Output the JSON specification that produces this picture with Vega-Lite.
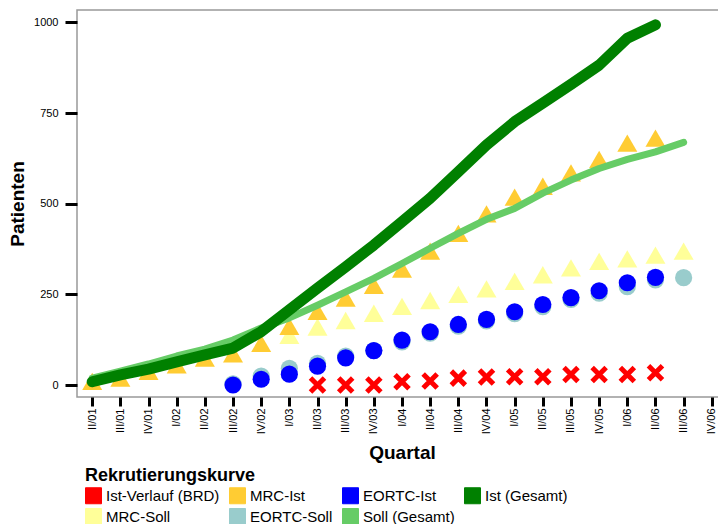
{
  "$schema": "https://vega.github.io/schema/vega-lite/v6.json",
  "width": 650,
  "height": 387,
  "autosize": {"type": "none"},
  "padding": {"left": 77, "top": 10, "right": 0, "bottom": 127},
  "background": "white",
  "config": {
    "font": "Liberation Sans",
    "view": {"stroke": "#999999", "strokeWidth": 1.5}
  },
  "data": {
    "values": [
      {"q": "II/01", "s": "Ist (Gesamt)", "n": 9},
      {"q": "III/01", "s": "Ist (Gesamt)", "n": 28},
      {"q": "IV/01", "s": "Ist (Gesamt)", "n": 44},
      {"q": "I/02", "s": "Ist (Gesamt)", "n": 64},
      {"q": "II/02", "s": "Ist (Gesamt)", "n": 83},
      {"q": "III/02", "s": "Ist (Gesamt)", "n": 102},
      {"q": "IV/02", "s": "Ist (Gesamt)", "n": 147},
      {"q": "I/03", "s": "Ist (Gesamt)", "n": 207},
      {"q": "II/03", "s": "Ist (Gesamt)", "n": 267},
      {"q": "III/03", "s": "Ist (Gesamt)", "n": 326},
      {"q": "IV/03", "s": "Ist (Gesamt)", "n": 386},
      {"q": "I/04", "s": "Ist (Gesamt)", "n": 450},
      {"q": "II/04", "s": "Ist (Gesamt)", "n": 515},
      {"q": "III/04", "s": "Ist (Gesamt)", "n": 588},
      {"q": "IV/04", "s": "Ist (Gesamt)", "n": 662},
      {"q": "I/05", "s": "Ist (Gesamt)", "n": 726},
      {"q": "II/05", "s": "Ist (Gesamt)", "n": 777},
      {"q": "III/05", "s": "Ist (Gesamt)", "n": 829},
      {"q": "IV/05", "s": "Ist (Gesamt)", "n": 882},
      {"q": "I/06", "s": "Ist (Gesamt)", "n": 956},
      {"q": "II/06", "s": "Ist (Gesamt)", "n": 993},

      {"q": "II/01", "s": "Soll (Gesamt)", "n": 19},
      {"q": "III/01", "s": "Soll (Gesamt)", "n": 38},
      {"q": "IV/01", "s": "Soll (Gesamt)", "n": 58},
      {"q": "I/02", "s": "Soll (Gesamt)", "n": 80},
      {"q": "II/02", "s": "Soll (Gesamt)", "n": 99},
      {"q": "III/02", "s": "Soll (Gesamt)", "n": 124},
      {"q": "IV/02", "s": "Soll (Gesamt)", "n": 157},
      {"q": "I/03", "s": "Soll (Gesamt)", "n": 185},
      {"q": "II/03", "s": "Soll (Gesamt)", "n": 220},
      {"q": "III/03", "s": "Soll (Gesamt)", "n": 257},
      {"q": "IV/03", "s": "Soll (Gesamt)", "n": 294},
      {"q": "I/04", "s": "Soll (Gesamt)", "n": 335},
      {"q": "II/04", "s": "Soll (Gesamt)", "n": 377},
      {"q": "III/04", "s": "Soll (Gesamt)", "n": 418},
      {"q": "IV/04", "s": "Soll (Gesamt)", "n": 457},
      {"q": "I/05", "s": "Soll (Gesamt)", "n": 487},
      {"q": "II/05", "s": "Soll (Gesamt)", "n": 529},
      {"q": "III/05", "s": "Soll (Gesamt)", "n": 565},
      {"q": "IV/05", "s": "Soll (Gesamt)", "n": 597},
      {"q": "I/06", "s": "Soll (Gesamt)", "n": 622},
      {"q": "II/06", "s": "Soll (Gesamt)", "n": 643},
      {"q": "III/06", "s": "Soll (Gesamt)", "n": 669},

      {"q": "II/01", "s": "MRC-Ist", "n": 2},
      {"q": "III/01", "s": "MRC-Ist", "n": 11},
      {"q": "IV/01", "s": "MRC-Ist", "n": 30},
      {"q": "I/02", "s": "MRC-Ist", "n": 48},
      {"q": "II/02", "s": "MRC-Ist", "n": 66},
      {"q": "III/02", "s": "MRC-Ist", "n": 78},
      {"q": "IV/02", "s": "MRC-Ist", "n": 107},
      {"q": "I/03", "s": "MRC-Ist", "n": 154},
      {"q": "II/03", "s": "MRC-Ist", "n": 195},
      {"q": "III/03", "s": "MRC-Ist", "n": 232},
      {"q": "IV/03", "s": "MRC-Ist", "n": 267},
      {"q": "I/04", "s": "MRC-Ist", "n": 312},
      {"q": "II/04", "s": "MRC-Ist", "n": 361},
      {"q": "III/04", "s": "MRC-Ist", "n": 410},
      {"q": "IV/04", "s": "MRC-Ist", "n": 464},
      {"q": "I/05", "s": "MRC-Ist", "n": 510},
      {"q": "II/05", "s": "MRC-Ist", "n": 540},
      {"q": "III/05", "s": "MRC-Ist", "n": 577},
      {"q": "IV/05", "s": "MRC-Ist", "n": 614},
      {"q": "I/06", "s": "MRC-Ist", "n": 659},
      {"q": "II/06", "s": "MRC-Ist", "n": 673},

      {"q": "I/03", "s": "MRC-Soll", "n": 129},
      {"q": "II/03", "s": "MRC-Soll", "n": 152},
      {"q": "III/03", "s": "MRC-Soll", "n": 170},
      {"q": "IV/03", "s": "MRC-Soll", "n": 190},
      {"q": "I/04", "s": "MRC-Soll", "n": 209},
      {"q": "II/04", "s": "MRC-Soll", "n": 225},
      {"q": "III/04", "s": "MRC-Soll", "n": 242},
      {"q": "IV/04", "s": "MRC-Soll", "n": 257},
      {"q": "I/05", "s": "MRC-Soll", "n": 278},
      {"q": "II/05", "s": "MRC-Soll", "n": 296},
      {"q": "III/05", "s": "MRC-Soll", "n": 315},
      {"q": "IV/05", "s": "MRC-Soll", "n": 333},
      {"q": "I/06", "s": "MRC-Soll", "n": 340},
      {"q": "II/06", "s": "MRC-Soll", "n": 350},
      {"q": "III/06", "s": "MRC-Soll", "n": 361},

      {"q": "III/02", "s": "EORTC-Ist", "n": 0},
      {"q": "IV/02", "s": "EORTC-Ist", "n": 16},
      {"q": "I/03", "s": "EORTC-Ist", "n": 30},
      {"q": "II/03", "s": "EORTC-Ist", "n": 52},
      {"q": "III/03", "s": "EORTC-Ist", "n": 75},
      {"q": "IV/03", "s": "EORTC-Ist", "n": 95},
      {"q": "I/04", "s": "EORTC-Ist", "n": 124},
      {"q": "II/04", "s": "EORTC-Ist", "n": 147},
      {"q": "III/04", "s": "EORTC-Ist", "n": 167},
      {"q": "IV/04", "s": "EORTC-Ist", "n": 181},
      {"q": "I/05", "s": "EORTC-Ist", "n": 202},
      {"q": "II/05", "s": "EORTC-Ist", "n": 222},
      {"q": "III/05", "s": "EORTC-Ist", "n": 241},
      {"q": "IV/05", "s": "EORTC-Ist", "n": 260},
      {"q": "I/06", "s": "EORTC-Ist", "n": 282},
      {"q": "II/06", "s": "EORTC-Ist", "n": 297},

      {"q": "III/02", "s": "EORTC-Soll", "n": 3},
      {"q": "IV/02", "s": "EORTC-Soll", "n": 25},
      {"q": "I/03", "s": "EORTC-Soll", "n": 46},
      {"q": "II/03", "s": "EORTC-Soll", "n": 60},
      {"q": "III/03", "s": "EORTC-Soll", "n": 80},
      {"q": "IV/03", "s": "EORTC-Soll", "n": 95},
      {"q": "I/04", "s": "EORTC-Soll", "n": 119},
      {"q": "II/04", "s": "EORTC-Soll", "n": 143},
      {"q": "III/04", "s": "EORTC-Soll", "n": 162},
      {"q": "IV/04", "s": "EORTC-Soll", "n": 177},
      {"q": "I/05", "s": "EORTC-Soll", "n": 197},
      {"q": "II/05", "s": "EORTC-Soll", "n": 216},
      {"q": "III/05", "s": "EORTC-Soll", "n": 236},
      {"q": "IV/05", "s": "EORTC-Soll", "n": 253},
      {"q": "I/06", "s": "EORTC-Soll", "n": 271},
      {"q": "II/06", "s": "EORTC-Soll", "n": 290},
      {"q": "III/06", "s": "EORTC-Soll", "n": 296},

      {"q": "II/03", "s": "Ist-Verlauf (BRD)", "n": 0},
      {"q": "III/03", "s": "Ist-Verlauf (BRD)", "n": 0},
      {"q": "IV/03", "s": "Ist-Verlauf (BRD)", "n": 0},
      {"q": "I/04", "s": "Ist-Verlauf (BRD)", "n": 9},
      {"q": "II/04", "s": "Ist-Verlauf (BRD)", "n": 11},
      {"q": "III/04", "s": "Ist-Verlauf (BRD)", "n": 19},
      {"q": "IV/04", "s": "Ist-Verlauf (BRD)", "n": 22},
      {"q": "I/05", "s": "Ist-Verlauf (BRD)", "n": 23},
      {"q": "II/05", "s": "Ist-Verlauf (BRD)", "n": 23},
      {"q": "III/05", "s": "Ist-Verlauf (BRD)", "n": 29},
      {"q": "IV/05", "s": "Ist-Verlauf (BRD)", "n": 29},
      {"q": "I/06", "s": "Ist-Verlauf (BRD)", "n": 29},
      {"q": "II/06", "s": "Ist-Verlauf (BRD)", "n": 34}
    ]
  },
  "encoding": {
    "x": {
      "field": "q",
      "type": "ordinal",
      "scale": {
        "type": "point",
        "padding": 0.54,
        "domain": ["II/01","III/01","IV/01","I/02","II/02","III/02","IV/02","I/03","II/03","III/03","IV/03","I/04","II/04","III/04","IV/04","I/05","II/05","III/05","IV/05","I/06","II/06","III/06","IV/06"]
      },
      "axis": {
        "title": "Quartal",
        "titleFontSize": 19,
        "titleFontWeight": "bold",
        "titleColor": "black",
        "titlePadding": 10,
        "labelAngle": -90,
        "labelFontSize": 11,
        "labelColor": "black",
        "labelPadding": 2,
        "tickSize": 9,
        "tickWidth": 3,
        "tickColor": "black",
        "domain": false,
        "grid": false
      }
    },
    "y": {
      "field": "n",
      "type": "quantitative",
      "scale": {"domain": [-33, 1034], "nice": false, "zero": false},
      "axis": {
        "title": "Patienten",
        "titleFontSize": 19,
        "titleFontWeight": "bold",
        "titleColor": "black",
        "titlePadding": 6,
        "values": [0, 250, 500, 750, 1000],
        "format": "d",
        "labelFontSize": 11,
        "labelColor": "black",
        "labelPadding": 7,
        "tickSize": 12,
        "tickWidth": 3,
        "tickColor": "black",
        "domain": false,
        "grid": false
      }
    },
    "color": {
      "field": "s",
      "type": "nominal",
      "scale": {
        "domain": ["Ist-Verlauf (BRD)", "MRC-Ist", "EORTC-Ist", "Ist (Gesamt)", "MRC-Soll", "EORTC-Soll", "Soll (Gesamt)"],
        "range": ["#FF0000", "#FFCC33", "#0000FF", "#008000", "#FFFF99", "#99CCCC", "#66CC66"]
      },
      "legend": {
        "title": "Rekrutierungskurve",
        "orient": "none",
        "legendX": 8,
        "legendY": 457,
        "direction": "horizontal",
        "columns": 4,
        "symbolType": "square",
        "symbolSize": 256,
        "symbolStrokeColor": "#222222",
        "symbolStrokeWidth": 1,
        "symbolOpacity": 1,
        "labelFontSize": 15,
        "labelColor": "black",
        "labelOffset": 4,
        "titleFontSize": 18,
        "titleFontWeight": "bold",
        "titleColor": "black",
        "titlePadding": 2,
        "columnPadding": 7,
        "rowPadding": 0,
        "encode": {
          "symbols": {
            "update": {
              "fill": {"scale": "color", "field": "value"},
              "stroke": {"value": "#222222"},
              "strokeWidth": {"value": 1},
              "opacity": {"value": 1},
              "fillOpacity": {"value": 1},
              "shape": {"value": "square"}
            }
          }
        }
      }
    }
  },
  "layer": [
    {
      "transform": [{"filter": "datum.s === 'MRC-Soll'"}],
      "mark": {"type": "point", "filled": true, "opacity": 1, "shape": "M0,-1.155L1,0.577L-1,0.577Z", "size": 400}
    },
    {
      "transform": [{"filter": "datum.s === 'MRC-Ist'"}],
      "mark": {"type": "point", "filled": true, "opacity": 1, "shape": "M0,-1.155L1,0.577L-1,0.577Z", "size": 400}
    },
    {
      "transform": [{"filter": "datum.s === 'EORTC-Soll'"}],
      "mark": {"type": "point", "filled": true, "opacity": 1, "shape": "circle", "size": 295}
    },
    {
      "transform": [{"filter": "datum.s === 'EORTC-Ist'"}],
      "mark": {"type": "point", "filled": true, "opacity": 1, "shape": "circle", "size": 295}
    },
    {
      "transform": [{"filter": "datum.s === 'Ist-Verlauf (BRD)'"}],
      "mark": {"type": "point", "filled": false, "opacity": 1, "shape": "M-1,-1L1,1M1,-1L-1,1", "size": 196, "strokeWidth": 5}
    },
    {
      "transform": [{"filter": "datum.s === 'Soll (Gesamt)'"}],
      "mark": {"type": "line", "strokeWidth": 7, "strokeCap": "round", "strokeJoin": "round"}
    },
    {
      "transform": [{"filter": "datum.s === 'Ist (Gesamt)'"}],
      "mark": {"type": "line", "strokeWidth": 11, "strokeCap": "round", "strokeJoin": "round"}
    }
  ]
}
